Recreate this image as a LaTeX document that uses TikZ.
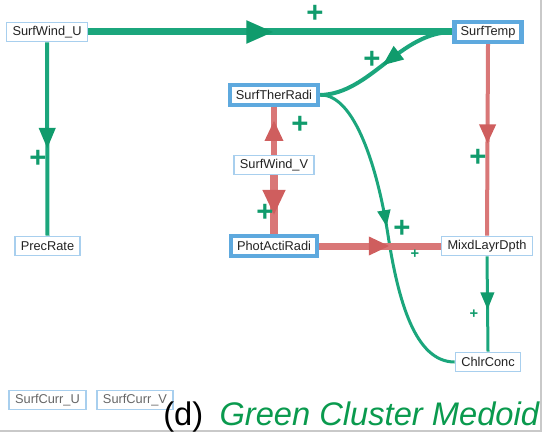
\documentclass[tikz,border=0pt]{standalone}
\usepackage{fontspec}
\setmainfont{Liberation Sans}
\usetikzlibrary{arrows.meta,decorations.markings}

\definecolor{edgeGreen}{HTML}{1BA67C}
\definecolor{tipGreen}{HTML}{109B6C}
\definecolor{edgeRed}{HTML}{D97777}
\definecolor{tipRed}{HTML}{CF5E5E}
\definecolor{boxLight}{HTML}{A8CFEE}
\definecolor{boxSel}{HTML}{5EA9DE}
\definecolor{labelInk}{HTML}{222222}
\definecolor{captionGreen}{HTML}{0A9A4E}
\definecolor{frameGrey}{HTML}{C9C9C9}

\pgfdeclarelayer{edges}
\pgfsetlayers{edges,main}

\tikzset{
  var/.style={rectangle, draw=boxLight, line width=1.1pt, fill=white,
    text=labelInk, font=\fontsize{9.6}{11}\selectfont,
    inner xsep=4.5pt, inner ysep=0pt, minimum height=14.5pt},
  selvar/.style={var, draw=boxSel, line width=3.2pt},
  faded/.style={var, text=black!60},
  pos/.style={edgeGreen, line width=#1},
  neg/.style={edgeRed, line width=#1},
  gtip/.style 2 args={postaction={decorate}, decoration={markings,
    mark=at position #1 with {\arrow{Triangle[length=#2*1.3, width=#2, color=tipGreen]}}}},
  rtip/.style 2 args={postaction={decorate}, decoration={markings,
    mark=at position #1 with {\arrow{Triangle[length=#2*1.2, width=#2, color=tipRed]}}}},
  plusbig/.style={text=tipGreen, font=\fontsize{22}{22}\selectfont\bfseries, inner sep=0pt},
  plussmall/.style={text=tipGreen, font=\fontsize{11}{11}\selectfont\bfseries, inner sep=0pt},
}

\begin{document}
\begin{tikzpicture}[x=0.75pt, y=-0.75pt]
\useasboundingbox (0,0) rectangle (548,434);

% panel frame (right and bottom edges)
\draw[frameGrey, line width=1pt] (541,0) -- (541,431) -- (0,431);

% variables
\node[var]    (SWU) at (47,32)   {SurfWind\_U};
\node[selvar] (ST)  at (488,32)  {SurfTemp};
\node[selvar] (STR) at (274,95)  {SurfTherRadi};
\node[var]    (SWV) at (274,165) {SurfWind\_V};
\node[selvar] (PAR) at (274,246) {PhotActiRadi};
\node[var]    (PR)  at (47.5,246){PrecRate};
\node[var]    (MLD) at (487,246) {MixdLayrDpth};
\node[var]    (CC)  at (488,362) {ChlrConc};
\node[faded]  (SCU) at (47.5,400){SurfCurr\_U};
\node[faded]  (SCV) at (135,400) {SurfCurr\_V};

% causal links
\begin{pgfonlayer}{edges}
  \draw[pos=5.25pt, gtip={0.51}{16pt}] (SWU.east) -- (ST.west);
  \draw[pos=3pt, gtip={0.55}{12pt}] (SWU.south) -- (PR.north);
  \draw[pos=3pt, gtip={0.53}{12pt}]
    (ST.west) .. controls (400,32) and (370,94) .. (STR.east);
  \draw[pos=2.25pt, gtip={0.49}{9.5pt}]
    (STR.east) .. controls (355,94) and (378,170) .. (388,235)
               .. controls (398,300) and (415,362) .. (CC.west);
  \draw[pos=2.25pt, gtip={0.56}{10pt}] (MLD.south) -- (CC.north);
  \draw[neg=3pt, rtip={0.52}{12pt}] (ST.south) -- (MLD.north);
  \draw[neg=4pt, rtip={0.72}{13pt}] (SWV.north) -- (STR.south);
  \draw[neg=6.5pt, rtip={0.68}{16pt}] (SWV.south) -- (PAR.north);
  \draw[neg=5.25pt, rtip={0.58}{13pt}] (PAR.east) -- (MLD.west);
\end{pgfonlayer}

% link signs
\node[plusbig]   (s1) at (315,14)  {+};
\node[plusbig]   (s2) at (38,159)  {+};
\node[plusbig]   (s3) at (372,60)  {+};
\node[plusbig]   (s4) at (300,125) {+};
\node[plusbig]   (s5) at (265,213) {+};
\node[plusbig]   (s6) at (478,158) {+};
\node[plusbig]   (s7) at (402,229) {+};
\node[plussmall] (s8) at (415,254) {+};
\node[plussmall] (s9) at (474,314) {+};

% panel caption
\node[anchor=base west, inner sep=0pt, font=\fontsize{24.5}{28}\selectfont]
  (cap) at (163,425) {(d)\hspace{0.5em}\textcolor{captionGreen}{\itshape Green Cluster Medoid}};
\end{tikzpicture}
\end{document}
